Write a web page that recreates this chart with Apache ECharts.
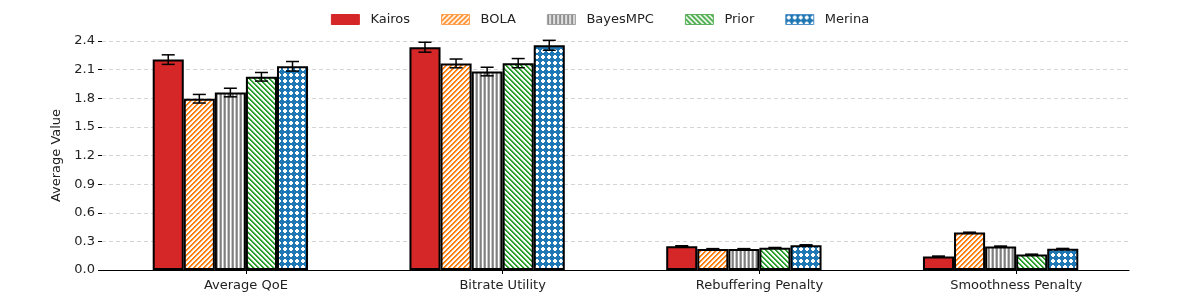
<!DOCTYPE html>
<html>
<head>
<meta charset="utf-8">
<script src="https://cdn.jsdelivr.net/npm/echarts@6/dist/echarts.min.js"></script>
<style>html,body{margin:0;padding:0;background:#fff}#c{width:1200px;height:300px}</style>
</head>
<body>
<div id="c"></div>
<script>
// ---- data ----
const categories = ['Average QoE', 'Bitrate Utility', 'Rebuffering Penalty', 'Smoothness Penalty'];
const methods = ['Kairos', 'BOLA', 'BayesMPC', 'Prior', 'Merina'];
const kairos   = [2.205, 2.335, 0.250, 0.142];
const bola     = [1.795, 2.165, 0.220, 0.392];
const bayesMPC = [1.86, 2.08, 0.220, 0.247];
const prior    = [2.025, 2.168, 0.232, 0.162];
const merina   = [2.135, 2.355, 0.260, 0.222];
const kairosErr   = [0.050, 0.052, 0.004, 0.004];
const bolaErr     = [0.045, 0.046, 0.004, 0.004];
const bayesMPCErr = [0.045, 0.045, 0.004, 0.004];
const priorErr    = [0.045, 0.048, 0.004, 0.004];
const merinaErr   = [0.050, 0.052, 0.004, 0.004];
const yTicks = [0, 0.3, 0.6, 0.9, 1.2, 1.5, 1.8, 2.1, 2.4];

const values = [kairos, bola, bayesMPC, prior, merina];
const errors = [kairosErr, bolaErr, bayesMPCErr, priorErr, merinaErr];

// ---- style ----
const FONT = 'DejaVu Sans';
const BAR_FRAC = 0.121;

function tile(w, h, fn) {
  const c = document.createElement('canvas');
  c.width = w; c.height = h;
  const ctx = c.getContext('2d');
  ctx.fillStyle = '#ffffff';
  ctx.fillRect(0, 0, w, h);
  for (let y = 0; y < h; y++) for (let x = 0; x < w; x++) {
    const col = fn(x, y);
    if (col) { ctx.fillStyle = col; ctx.fillRect(x, y, 1, 1); }
  }
  return c;
}
const patterns = [
  '#d62728',
  { image: tile(5, 5, (x, y) => ((x + y) % 5 < 2 ? '#ff7f0e' : ((x + y) % 5 === 2 ? '#ffd2aa' : null))), repeat: 'repeat' },
  { image: tile(4, 1, (x) => ['#7f7f7f', '#9a9a9a', null, '#c8c8c8'][x]), repeat: 'repeat' },
  { image: tile(5, 5, (x, y) => { const k = ((x - y) % 5 + 5) % 5; return k < 2 ? '#2ca02c' : (k === 2 ? '#b8dcb8' : null); }), repeat: 'repeat' },
  { image: tile(6, 6, (x, y) => {
      const inPlus = (x >= 2 && x <= 3 && y >= 1 && y <= 4) || (y >= 2 && y <= 3 && x >= 1 && x <= 4);
      return inPlus ? null : '#1f77b4';
    }), repeat: 'repeat' }
];

const series = [];
methods.forEach((m, j) => {
  series.push({
    name: m,
    type: 'bar',
    xAxisIndex: 0,
    barWidth: (BAR_FRAC * 100) + '%',
    barGap: '0%',
    data: values[j],
    itemStyle: { color: patterns[j], borderColor: '#000', borderWidth: 2 },
    emphasis: { disabled: true },
    z: 2
  });
});
methods.forEach((m, j) => {
  series.push({
    name: 'err_' + m,
    type: 'custom',
    xAxisIndex: 0,
    z: 5,
    silent: true,
    data: values[j].map((v, i) => [i, v, errors[j][i]]),
    renderItem: function (params, api) {
      const i = api.value(0), v = api.value(1), e = api.value(2);
      const band = api.size([1, 0])[0];
      const c = api.coord([i, v]);
      const x = c[0] + (j - (methods.length - 1) / 2) * band * BAR_FRAC;
      const yTop = api.coord([i, v + e])[1];
      const yBot = api.coord([i, v - e])[1];
      const cap = 6.5;
      const st = { stroke: '#000', lineWidth: 1.5, fill: null };
      return {
        type: 'group',
        children: [
          { type: 'line', shape: { x1: x, y1: yTop, x2: x, y2: yBot }, style: st },
          { type: 'line', shape: { x1: x - cap, y1: yTop, x2: x + cap, y2: yTop }, style: st },
          { type: 'line', shape: { x1: x - cap, y1: yBot, x2: x + cap, y2: yBot }, style: st }
        ]
      };
    }
  });
});

const legendBorder = ['#d62728', '#ff9f50', '#a0a0a0', '#60b060', '#5090c8'];

const option = {
  animation: false,
  backgroundColor: '#fff',
  textStyle: { fontFamily: FONT },
  legend: {
    top: 8,
    left: 'center',
    icon: 'rect',
    itemWidth: 28,
    itemHeight: 10,
    itemGap: 31,
    textStyle: { fontFamily: FONT, fontSize: 13, color: '#222', padding: [0, 0, 0, 6] },
    data: methods.map((m, j) => ({ name: m, itemStyle: { borderColor: legendBorder[j], borderWidth: 1 } }))
  },
  grid: { left: 102, right: 71, top: 41, bottom: 30 },
  xAxis: [
    {
      type: 'category',
      position: 'bottom',
      data: categories,
      boundaryGap: true,
      axisLine: { show: false },
      axisTick: { show: false },
      axisLabel: { show: false },
      splitLine: { show: false }
    },
    {
      type: 'value',
      position: 'bottom',
      min: -0.5 - BAR_FRAC / 2,
      max: categories.length - 0.5 - BAR_FRAC / 2,
      axisLine: { show: true, onZero: false, lineStyle: { color: '#000', width: 1.2 } },
      axisTick: { show: true, length: 4, lineStyle: { color: '#000' }, customValues: categories.map((c, i) => i) },
      axisLabel: {
        show: true, margin: 9, fontFamily: FONT, fontSize: 13, color: '#222',
        customValues: categories.map((c, i) => i),
        formatter: (v) => categories[Math.round(v)] || ''
      },
      splitLine: { show: false }
    }
  ],
  yAxis: {
    type: 'value',
    min: yTicks[0],
    max: yTicks[yTicks.length - 1],
    interval: 0.3,
    name: 'Average Value',
    nameLocation: 'middle',
    nameGap: 36,
    nameTextStyle: { fontFamily: FONT, fontSize: 13, color: '#222' },
    axisLine: { show: false, onZero: false },
    axisTick: { show: true, length: 4, lineStyle: { color: '#000' } },
    axisLabel: { margin: 7, fontFamily: FONT, fontSize: 13, color: '#222', formatter: (v) => v.toFixed(1) },
    splitLine: { show: true, lineStyle: { color: '#d4d4d4', type: [4, 3], width: 1 } }
  },
  series: series
};

const chart = echarts.init(document.getElementById('c'), null, { renderer: 'canvas' });
chart.setOption(option);
</script>
</body>
</html>
